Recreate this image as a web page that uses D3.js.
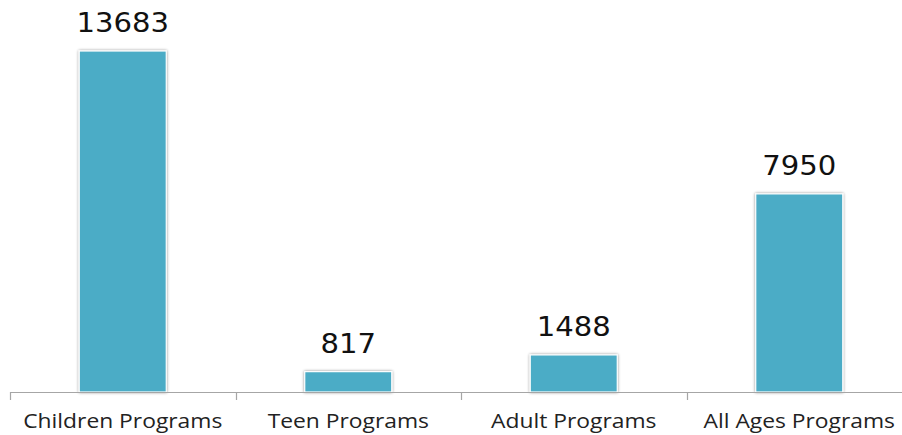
<!DOCTYPE html>
<html>
<head>
<meta charset="utf-8">
<script src="https://cdn.jsdelivr.net/npm/d3@7"></script>
<style>
  body { margin: 0; background: #fff; }
  svg { display: block; }
</style>
</head>
<body>
<svg id="chart" width="902" height="435"></svg>
<script>
// program attendance
const categories = ["Children Programs", "Teen Programs", "Adult Programs", "All Ages Programs"];
const values = [13683, 817, 1488, 7950];

const svg = d3.select("#chart");
const baseY = 392;

const x = d3.scaleBand()
  .domain(categories)
  .range([10, 912])
  .paddingInner(0.614)
  .paddingOuter(0.307);

const y = d3.scaleLinear()
  .domain([0, 13683])
  .range([baseY, 51]);

// soft shadow around bars
const defs = svg.append("defs");
const f = defs.append("filter").attr("id", "shadow")
  .attr("x", "-20%").attr("y", "-20%").attr("width", "140%").attr("height", "140%");
f.append("feGaussianBlur").attr("in", "SourceAlpha").attr("stdDeviation", 1.6).attr("result", "b");
f.append("feComponentTransfer").attr("in", "b").attr("result", "s")
  .append("feFuncA").attr("type", "linear").attr("slope", 0.45);
const m = f.append("feMerge");
m.append("feMergeNode").attr("in", "s");
m.append("feMergeNode").attr("in", "SourceGraphic");

svg.append("g")
  .selectAll("rect")
  .data(values)
  .join("rect")
    .attr("x", (d, i) => x(categories[i]))
    .attr("y", d => y(d))
    .attr("width", x.bandwidth())
    .attr("height", d => baseY - y(d))
    .attr("fill", "#4bacc6")
    .attr("stroke", "#ffffff")
    .attr("stroke-width", 1.2)
    .attr("filter", "url(#shadow)");

// axis: line plus ticks between categories
const tickXs = categories.map(c => x(c) - x.step() * x.paddingOuter());
const axis = svg.append("g").attr("stroke", "#a6a6a6").attr("stroke-width", 1.2);
axis.append("line")
  .attr("x1", 10).attr("x2", 902)
  .attr("y1", baseY + 0.5).attr("y2", baseY + 0.5);
axis.selectAll("line.tick")
  .data(tickXs)
  .join("line")
    .attr("class", "tick")
    .attr("x1", d => Math.round(d) + 0.5).attr("x2", d => Math.round(d) + 0.5)
    .attr("y1", baseY).attr("y2", baseY + 8);

// the original picture is stretched a little sideways
svg.append("g")
  .selectAll("text")
  .data(categories)
  .join("text")
    .attr("transform", d => `translate(${x(d) + x.bandwidth() / 2},428) scale(1.17,1)`)
    .attr("text-anchor", "middle")
    .attr("font-family", "'Open Sans', sans-serif")
    .attr("font-size", 19.5)
    .attr("fill", "#222")
    .text(d => d);

svg.append("g")
  .selectAll("text")
  .data(values)
  .join("text")
    .attr("transform", (d, i) => `translate(${x(categories[i]) + x.bandwidth() / 2},${y(d) - 19}) scale(1.12,1)`)
    .attr("text-anchor", "middle")
    .attr("font-family", "'DejaVu Sans', sans-serif")
    .attr("font-size", 26)
    .attr("fill", "#111")
    .text(d => d);
</script>
</body>
</html>
